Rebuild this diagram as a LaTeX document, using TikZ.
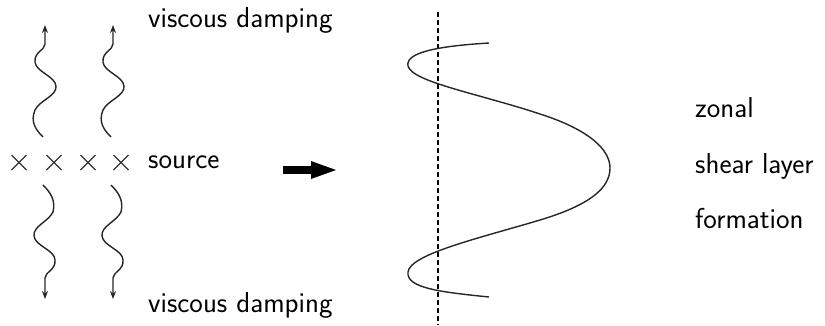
\documentclass[tikz,border=0pt]{standalone}
\usetikzlibrary{arrows.meta}
\begin{document}
\begin{tikzpicture}[x=1pt,y=-1pt,
  lbl/.style={anchor=base west,inner sep=0pt,font=\fontsize{28.8}{32}\sffamily},
  wave/.style={line width=1.4pt,draw=black!85,-{Stealth[length=8pt,width=6pt]}},
  crossmark/.style={line width=1.2pt,draw=black!80},
  thinc/.style={line width=1.4pt,draw=black!85}]
\useasboundingbox (0,0) rectangle (825,325);
% labels
\node[lbl] (vdtop) at (148,27) {viscous damping};
\node[lbl] (src) at (148,168) {source};
\node[lbl] (vdbot) at (148,312) {viscous damping};
\node[lbl] (zonal) at (695,117) {zonal};
\node[lbl] (shear) at (695,173) {shear layer};
\node[lbl] (form) at (695,228) {formation};
% crosses
\foreach \cx in {19,54,88,121}{
  \draw[crossmark] (\cx-7.5,155) -- (\cx+7.5,170) (\cx-7.5,170) -- (\cx+7.5,155);
}
% wavy arrows
\foreach \dx in {0,68}{
  \begin{scope}[xshift=\dx]
  \draw[wave] (43,137) .. controls (36,130) and (30,122) .. (35,110)
     .. controls (40,100) and (57,96) .. (56,86)
     .. controls (55,76) and (36,72) .. (35,62)
     .. controls (34,52) and (45,50) .. (45,44) -- (45,25);
  \draw[wave] (43,185) .. controls (50,192) and (56,200) .. (53,212)
     .. controls (48,222) and (33,226) .. (34,236)
     .. controls (35,246) and (55,250) .. (55,260)
     .. controls (56,270) and (45,272) .. (45,278) -- (45,299);
  \end{scope}
}
% thick arrow
\fill[black] (283,166) rectangle (313,174);
\fill[black] (311,161) -- (336,170) -- (311,179) -- cycle;
% dashed line
\draw[line width=1.1pt,dash pattern=on 5pt off 3pt] (438,12) -- (438,325);
% curve
\draw[thinc] (489,43) .. controls (440,46) and (405,52) .. (408,66)
  .. controls (412,82) and (480,94) .. (540,114)
  .. controls (590,130) and (610,150) .. (610,168)
  .. controls (610,188) and (590,205) .. (540,220)
  .. controls (480,238) and (410,254) .. (408,272)
  .. controls (406,288) and (440,292) .. (489,297);
\end{tikzpicture}
\end{document}
